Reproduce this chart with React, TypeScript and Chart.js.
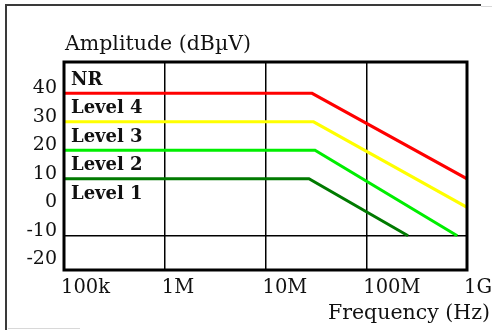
import React, { useEffect, useRef } from "react";
import { Chart, registerables } from "chart.js";

Chart.register(...registerables);

// ---- data ----
const nrFreq = [1e5, 2.9e7, 1e9];
const nrAmp = [40, 40, 10];
const level4Freq = [1e5, 3e7, 1e9];
const level4Amp = [30, 30, 0];
const level3Freq = [1e5, 3.1e7, 8e8];
const level3Amp = [20, 20, -10];
const level2Freq = [1e5, 2.7e7, 2.6e8];
const level2Amp = [10, 10, -10];

const xTickValues = [1e5, 1e6, 1e7, 1e8, 1e9];
const xTickLabels = ["100k", "1M", "10M", "100M", "1G"];
const yTickValues = [40, 30, 20, 10, 0, -10, -20];
const xGridValues = [1e6, 1e7, 1e8];
const yGridValues = [-10];

const levelLabels = ["NR", "Level 4", "Level 3", "Level 2", "Level 1"];
const levelLabelValues = [45, 35, 25, 15, 5];

const yTitle = "Amplitude (dBµV)";
const xTitle = "Frequency (Hz)";

const FONT = "'DejaVu Serif', serif";

const zip = (xs: number[], ys: number[]) => xs.map((x, i) => ({ x, y: ys[i] }));

const decorPlugin = {
  id: "decor",
  beforeDraw(chart: any) {
    const ctx = chart.ctx;
    ctx.save();
    ctx.fillStyle = "#ffffff";
    ctx.fillRect(0, 0, chart.width, chart.height);
    // outer picture frame
    ctx.strokeStyle = "#3a3a3a";
    ctx.lineWidth = 2;
    ctx.beginPath();
    ctx.moveTo(6, 330);
    ctx.lineTo(6, 5);
    ctx.lineTo(481, 5);
    ctx.stroke();
    ctx.strokeStyle = "#d8d8d8";
    ctx.lineWidth = 1;
    ctx.beginPath();
    ctx.moveTo(481, 6.5);
    ctx.lineTo(492, 6.5);
    ctx.moveTo(8, 328.5);
    ctx.lineTo(80, 328.5);
    ctx.stroke();
    ctx.restore();
  },
  afterDraw(chart: any) {
    const ctx = chart.ctx;
    const a = chart.chartArea;
    const y = chart.scales.y;
    ctx.save();
    ctx.strokeStyle = "#000";
    ctx.lineWidth = 3;
    ctx.strokeRect(a.left, a.top, a.right - a.left, a.bottom - a.top);
    ctx.fillStyle = "#111";
    ctx.font = `bold 18px ${FONT}`;
    ctx.textAlign = "left";
    ctx.textBaseline = "middle";
    levelLabels.forEach((t, i) => {
      ctx.fillText(t, a.left + 7, y.getPixelForValue(levelLabelValues[i]) + 1);
    });
    ctx.font = `20.5px ${FONT}`;
    ctx.textBaseline = "alphabetic";
    ctx.textAlign = "left";
    ctx.fillText(yTitle, a.left + 1, a.top - 12);
    ctx.textAlign = "right";
    ctx.fillText(xTitle, chart.width - 2, a.bottom + 49);
    ctx.restore();
  },
};

export default function App() {
  const ref = useRef<HTMLCanvasElement>(null);
  useEffect(() => {
    if (!ref.current) return;
    const chart = new Chart(ref.current, {
      type: "line",
      data: {
        datasets: [
          { label: "NR", data: zip(nrFreq, nrAmp), borderColor: "#ff0000" },
          { label: "Level 4", data: zip(level4Freq, level4Amp), borderColor: "#ffff00" },
          { label: "Level 3", data: zip(level3Freq, level3Amp), borderColor: "#00ee00" },
          { label: "Level 2", data: zip(level2Freq, level2Amp), borderColor: "#007a00" },
        ].map((d) => ({ ...d, borderWidth: 3, pointRadius: 0, tension: 0, fill: false })),
      },
      options: {
        animation: false,
        responsive: true,
        maintainAspectRatio: false,
        layout: { padding: { top: 62, right: 25, left: 0, bottom: 0 } },
        plugins: { legend: { display: false }, tooltip: { enabled: false }, title: { display: false } },
        scales: {
          x: {
            type: "logarithmic",
            min: 1e5,
            max: 1e9,
            afterBuildTicks: (s: any) => {
              s.ticks = xTickValues.map((v) => ({ value: v }));
            },
            afterFit: (s: any) => {
              s.height = 60;
              s.paddingLeft = 0;
              s.paddingRight = 0;
            },
            ticks: {
              autoSkip: false,
              maxRotation: 0,
              align: "start",
              labelOffset: -3,
              padding: 6,
              color: "#111",
              font: { family: FONT, size: 19.5 },
              callback: (_v: any, i: number) => xTickLabels[i],
            },
            grid: {
              drawTicks: false,
              lineWidth: 1.5,
              color: (c: any) => (xGridValues.includes(c.tick?.value) ? "#000" : "rgba(0,0,0,0)"),
            },
            border: { display: false },
          },
          y: {
            type: "linear",
            min: -22,
            max: 51,
            afterBuildTicks: (s: any) => {
              s.ticks = yTickValues.map((v) => ({ value: v }));
            },
            afterFit: (s: any) => {
              s.width = 64;
              s.paddingTop = 0;
              s.paddingBottom = 0;
            },
            ticks: {
              autoSkip: false,
              labelOffset: -5,
              padding: 7,
              color: "#111",
              font: { family: FONT, size: 19 },
              callback: (v: any) => String(v),
            },
            grid: {
              drawTicks: false,
              lineWidth: 1.5,
              color: (c: any) => (yGridValues.includes(c.tick?.value) ? "#000" : "rgba(0,0,0,0)"),
            },
            border: { display: false },
          },
        },
      },
      plugins: [decorPlugin],
    });
    return () => chart.destroy();
  }, []);
  return (
    <div style={{ position: "absolute", left: 0, top: 0, width: 492, height: 330, background: "#fff" }}>
      <canvas ref={ref} />
    </div>
  );
}
